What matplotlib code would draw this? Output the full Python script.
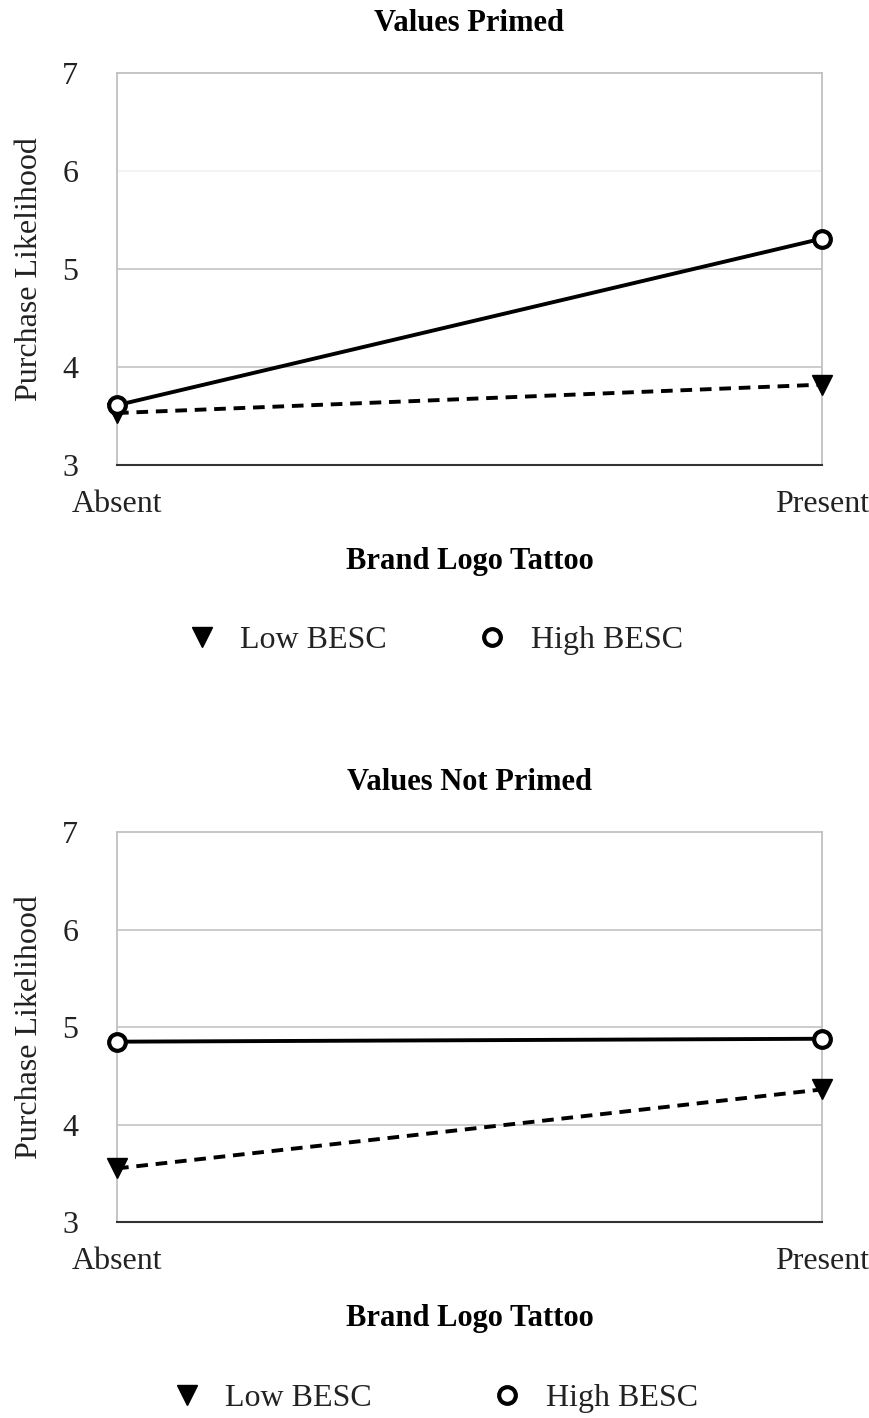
import matplotlib
matplotlib.use("Agg")
import matplotlib.pyplot as plt
from matplotlib.lines import Line2D

plt.rcParams["font.family"] = ["Liberation Serif", "DejaVu Serif"]

CATEGORIES = ["Absent", "Present"]
PANEL_TITLES = ["Values Primed", "Values Not Primed"]
LOW_BESC = [[3.53, 3.82], [3.55, 4.36]]
HIGH_BESC = [[3.61, 5.31], [4.85, 4.88]]
Y_TICKS = [3, 4, 5, 6, 7]

fig = plt.figure(figsize=(8.7, 14.18), dpi=100)
axes_boxes = [
    [0.1345, 0.6721, 0.8103, 0.2764],
    [0.1345, 0.1382, 0.8103, 0.2750],
]
legend_y = [1 - 640 / 1418, 1 - 1398 / 1418]
legend_x = [0.49, 0.49]
legend_gap = [2.3, 3.25]

for i, box in enumerate(axes_boxes):
    ax = fig.add_axes(box)
    x = list(range(len(CATEGORIES)))
    for yv in Y_TICKS[1:-1]:
        col = "#f2f2f2" if (i == 0 and yv == 6) else "#c8c8c8"
        ax.axhline(yv, color=col, lw=1.3, zorder=1)
    ax.plot(x, LOW_BESC[i], color="black", lw=2.8, ls=(0, (3, 2)),
            marker="v", ms=15, mfc="black", mec="black", zorder=3,
            clip_on=False)
    ax.plot(x, HIGH_BESC[i], color="black", lw=2.8, ls="-",
            marker="o", ms=12, mfc="white", mec="black", mew=3, zorder=4,
            clip_on=False)
    ax.set_xlim(0, 1)
    ax.set_ylim(3, 7)
    ax.set_yticks(Y_TICKS)
    ax.set_xticks(x)
    ax.set_xticklabels(CATEGORIES)
    ax.tick_params(axis="both", length=0, labelsize=23, colors="#222222")
    ax.tick_params(axis="x", pad=18)
    ax.tick_params(axis="y", pad=28)
    for s in ["top", "right", "left"]:
        ax.spines[s].set_color("#c0c0c0")
        ax.spines[s].set_linewidth(1.3)
    ax.spines["bottom"].set_color("#333333")
    ax.spines["bottom"].set_linewidth(1.5)
    ax.set_title(PANEL_TITLES[i], fontsize=22, fontweight="bold", pad=30)
    ax.set_xlabel("Brand Logo Tattoo", fontsize=22, fontweight="bold",
                  labelpad=20)
    ax.set_ylabel("Purchase Likelihood", fontsize=23, labelpad=13,
                  color="#222222")

    handles = [
        Line2D([], [], color="black", ls="none", marker="v", ms=15,
               mfc="black", mec="black"),
        Line2D([], [], color="black", ls="none", marker="o", ms=12,
               mfc="white", mec="black", mew=3),
    ]
    fig.legend(handles, ["Low BESC", "High BESC"], loc="center",
               bbox_to_anchor=(legend_x[i], legend_y[i]), ncol=2,
               frameon=False, fontsize=23, columnspacing=legend_gap[i],
               handletextpad=0.2, labelcolor="#222222")

fig.savefig("out.png", dpi=100, facecolor="white")
